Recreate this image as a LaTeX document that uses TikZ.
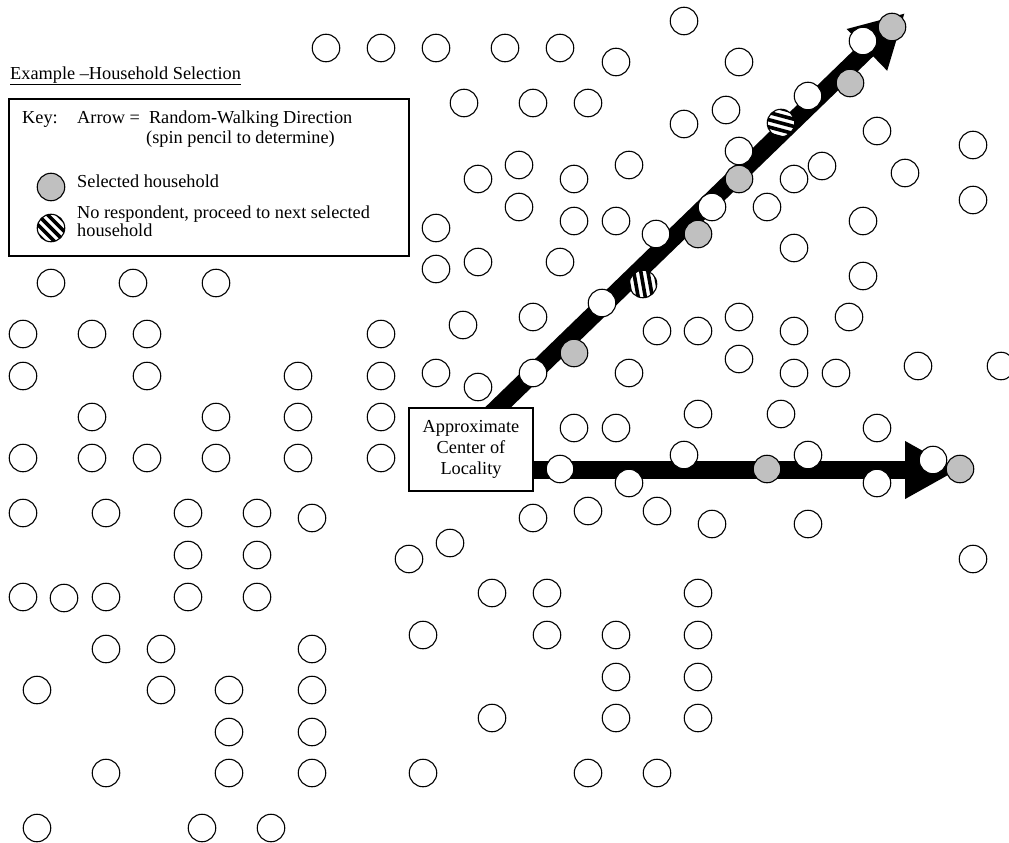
\documentclass[tikz,border=0pt]{standalone}
\usepackage{fontspec}
\setmainfont{Liberation Serif}
\usetikzlibrary{arrows.meta}
\definecolor{selgray}{RGB}{192,192,192}
\begin{document}
\begin{tikzpicture}[x=1pt,y=-1pt,
  hh/.style={circle,draw=black,line width=1.1pt,fill=white,minimum size=27.5pt,inner sep=0pt},
  sel/.style={hh,fill=selgray},
  striped/.style={hh,path picture={\begin{scope}[shift={(path picture bounding box.center)}]
     \foreach \k in {-3,...,3}{\draw[line width=3.6pt]
       ({-20*cos(#1)-\k*7*sin(#1)},{-20*sin(#1)+\k*7*cos(#1)}) --
       ({20*cos(#1)-\k*7*sin(#1)},{20*sin(#1)+\k*7*cos(#1)});}\end{scope}}},
  walk/.style={line width=18pt,-{Triangle[length=53pt,width=54pt]}},
  txt/.style={anchor=base west,inner sep=0pt,font=\fontsize{18.3}{20}\selectfont},
  boxframe/.style={draw=black,line width=1.1pt,inner sep=0pt},
]
\useasboundingbox (0,0) rectangle (1009,843);

% walking arrows
\coordinate (dstart) at (455,449);
\coordinate (dtip) at (905,13);
\coordinate (hstart) at (471,470);
\coordinate (htip) at (958,470);
\draw[walk] (dstart) -- (dtip);
\draw[walk] (hstart) -- (htip);

% households
\foreach \x/\y [count=\i] in {326/48, 381/48, 436/48, 505/48, 560/48, 684/21, 616/62, 739/62,
  464/103, 533/103, 588/103, 684/124, 726/110,
  519/165, 478/179, 574/179, 629/165, 519/207, 574/221, 616/221, 436/228, 436/269, 478/262, 560/262,
  877/131, 973/145, 905/173, 822/166, 794/179, 767/207, 973/200, 863/221, 794/248, 863/276,
  533/373, 602/303, 656/234, 712/207, 739/151, 808/96, 863/41,
  51/283, 133/283, 216/283,
  23/334, 92/334, 147/334, 381/334, 463/325,
  23/376, 147/376, 298/376, 381/376, 436/373, 478/387,
  92/417, 216/417, 298/417, 381/417,
  23/458, 92/458, 147/458, 216/458, 298/458, 381/458,
  23/513, 106/513, 188/513, 257/513, 312/518,
  188/555, 257/555, 409/559, 450/543,
  533/317, 657/331, 698/331, 739/317, 739/359, 629/373, 698/414, 574/428, 616/428,
  849/317, 794/331, 794/373, 836/373, 918/366, 1001/366, 781/414, 877/428,
  560/469, 629/483, 684/455, 808/455, 877/483, 933/460,
  533/518, 588/511, 657/511, 712/524, 808/524, 973/559,
  23/597, 64/598, 106/597, 188/597, 257/597,
  106/649, 161/649, 312/649,
  37/690, 161/690, 229/690, 312/690,
  229/732, 312/732,
  106/773, 229/773, 312/773, 423/773, 588/773, 657/773,
  37/828, 202/828, 271/828,
  492/593, 547/593, 698/593,
  423/635, 547/635, 616/635, 698/635,
  616/677, 698/677,
  492/718, 616/718, 698/718}
  \node[hh] (h\i) at (\x,\y) {};

% selected households
\foreach \x/\y [count=\i] in {574/353, 698/234, 739/179, 850/83, 892/27, 767/469, 960/469}
  \node[sel] (s\i) at (\x,\y) {};

% no respondent
\node[striped=80] (n1) at (643,284) {};
\node[striped=15] (n2) at (781,123) {};

% center box
\node[boxframe,fill=white,minimum width=124pt,minimum height=83pt,align=center,
  font=\fontsize{18.3}{21}\selectfont] (ctr) at (471,449.5) {Approximate\\Center of\\Locality};

% title and key
\node[txt] (title) at (10,79) {\underline{Example –Household Selection}};
\node[boxframe,minimum width=400pt,minimum height=157pt] (keybox) at (209,177.5) {};
\node[txt] (keylbl) at (22,123) {Key:};
\node[txt] (arrowlbl) at (77,123) {Arrow =~ Random-Walking Direction};
\node[txt] (spinlbl) at (146,143) {(spin pencil to determine)};
\node[sel] (legsel) at (51,187) {};
\node[txt] (sellbl) at (77,187) {Selected household};
\node[striped=45] (legno) at (51,228) {};
\node[txt] (nolbl1) at (77,218) {No respondent, proceed to next selected};
\node[txt] (nolbl2) at (77,236) {household};
\end{tikzpicture}
\end{document}
